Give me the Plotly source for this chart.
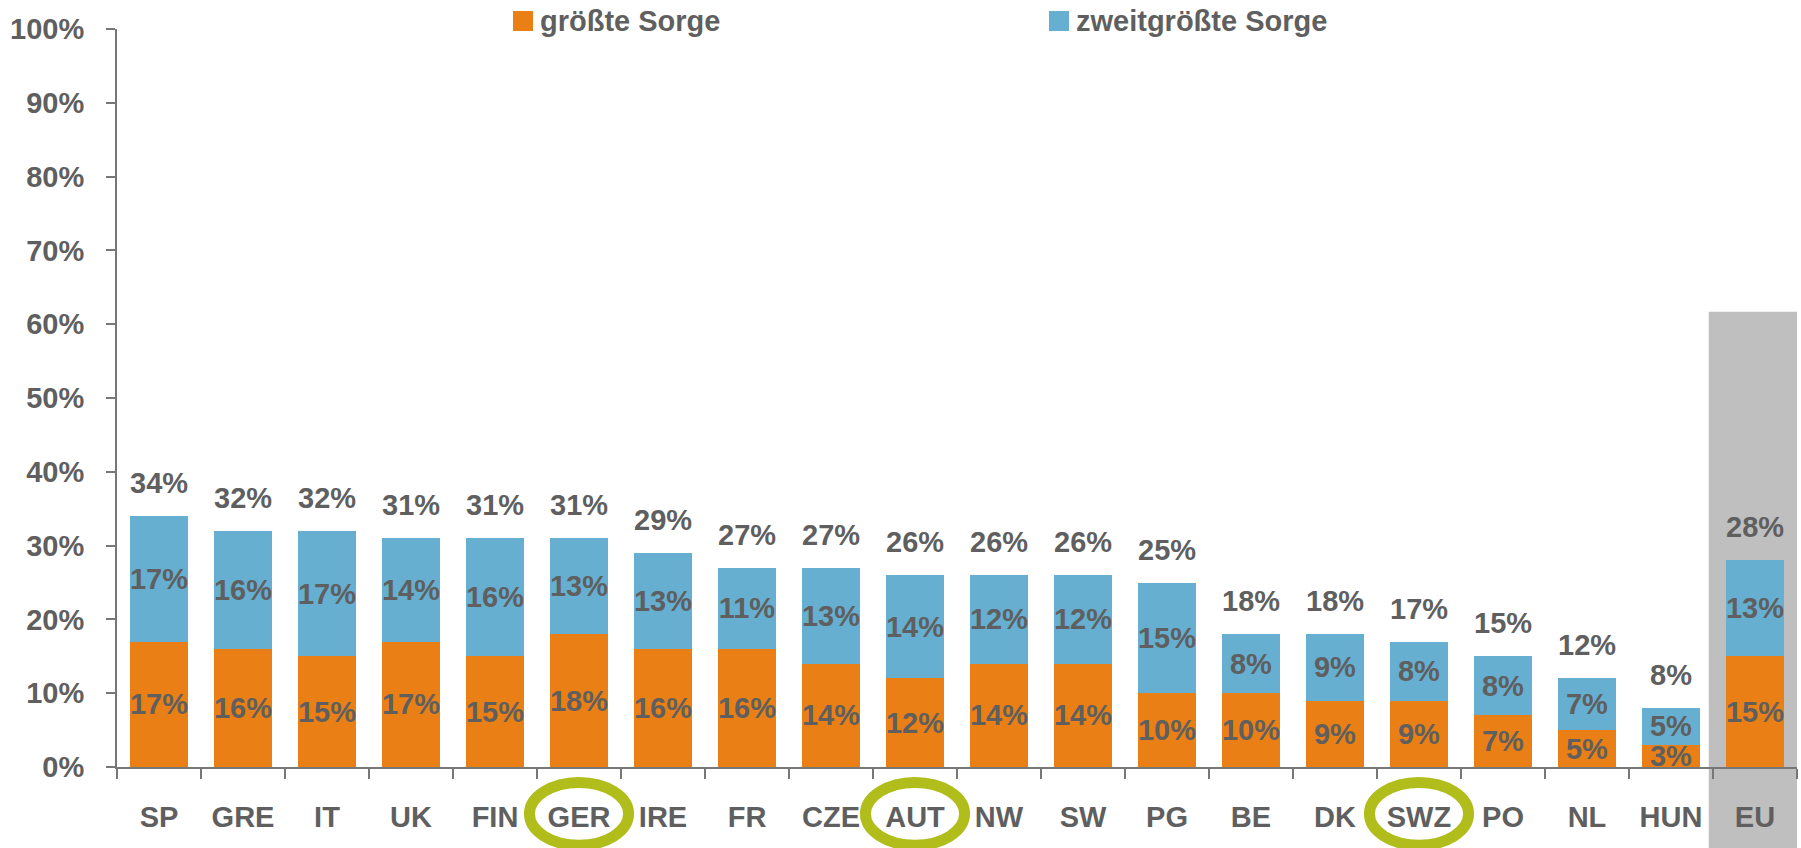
import plotly.graph_objects as go

categories = ["SP", "GRE", "IT", "UK", "FIN", "GER", "IRE", "FR", "CZE", "AUT",
              "NW", "SW", "PG", "BE", "DK", "SWZ", "PO", "NL", "HUN", "EU"]
biggest = [17, 16, 15, 17, 15, 18, 16, 16, 14, 12, 14, 14, 10, 10, 9, 9, 7, 5, 3, 15]
second = [17, 16, 17, 14, 16, 13, 13, 11, 13, 14, 12, 12, 15, 8, 9, 8, 8, 7, 5, 13]
totals = [34, 32, 32, 31, 31, 31, 29, 27, 27, 26, 26, 26, 25, 18, 18, 17, 15, 12, 8, 28]
highlighted = ["GER", "AUT", "SWZ"]
series_names = ["größte Sorge", "zweitgrößte Sorge"]
y_ticks = list(range(0, 101, 10))

ORANGE = "#EA7F16"
BLUE = "#66AFD0"
TEXT = "#5F5F5F"
AXIS = "#777777"
GREEN = "#B0BD1A"
FONT = "Arial, Liberation Sans, sans-serif"
FS = 29

W, H = 1801, 848
ML, MR, MT, MB = 117, 4, 29, 81
PW, PH = W - ML - MR, H - MT - MB


def px_x(p):
    return (p - ML) / PW


def px_y(p):
    return (H - MB - p) / PH


fig = go.Figure()
for name, vals, col in zip(series_names, [biggest, second], [ORANGE, BLUE]):
    fig.add_trace(go.Bar(
        x=categories, y=vals, name=name,
        marker=dict(color=col, line=dict(width=0)),
        text=[f"{v}%" for v in vals], textposition="inside",
        insidetextanchor="middle", textangle=0, constraintext="none",
        textfont=dict(family=FONT, size=FS, color=TEXT, weight="bold"),
        showlegend=False, hoverinfo="skip"))

for c, t in zip(categories, totals):
    fig.add_annotation(x=c, y=t, text=f"{t}%", showarrow=False,
                       yanchor="middle", yshift=33,
                       font=dict(family=FONT, size=FS, color=TEXT, weight="bold"))

# legend drawn by hand (square + label)
legend_square_left = [513, 1049]
for name, col, sx in zip(series_names, [ORANGE, BLUE], legend_square_left):
    fig.add_shape(type="rect", xref="paper", yref="paper",
                  x0=px_x(sx), x1=px_x(sx + 20), y0=px_y(31), y1=px_y(11),
                  fillcolor=col, line=dict(width=0))
    fig.add_annotation(xref="paper", yref="paper", x=px_x(sx + 26), y=px_y(21),
                       xanchor="left", yanchor="middle", text=name,
                       showarrow=False, borderpad=0,
                       font=dict(family=FONT, size=FS, color=TEXT, weight="bold"))

# grey highlight behind EU
eu_idx = categories.index("EU")
fig.add_shape(type="rect", xref="x", yref="y domain",
              x0=eu_idx - 0.55, x1=eu_idx + 0.5, y0=-0.2, y1=0.617,
              fillcolor="#BFBFBF", line=dict(width=0), layer="below")

# green ellipses around highlighted labels
for h in highlighted:
    i = categories.index(h)
    fig.add_shape(type="circle", xref="x", yref="y domain",
                  x0=i - 0.59, x1=i + 0.59, y0=-0.106, y1=-0.021,
                  line=dict(color=GREEN, width=11), layer="above")

fig.update_layout(
    width=W, height=H,
    margin=dict(l=ML, r=MR, t=MT, b=MB, autoexpand=False),
    paper_bgcolor="white", plot_bgcolor="rgba(0,0,0,0)",
    barmode="stack", bargap=0.32, showlegend=False,
    font=dict(family=FONT, size=FS, color=TEXT),
    xaxis=dict(type="category", tickson="boundaries", ticks="outside",
               ticklen=10, tickwidth=2, tickcolor=AXIS, showline=True,
               linecolor=AXIS, linewidth=2, showgrid=False, zeroline=False,
               ticklabelstandoff=23, range=[-0.5, len(categories) - 0.5],
               tickfont=dict(family=FONT, size=FS, color=TEXT, weight="bold")),
    yaxis=dict(range=[0, 100], tickvals=y_ticks,
               ticktext=[f"{v}%" for v in y_ticks], ticks="outside",
               ticklen=9, tickwidth=2, tickcolor=AXIS, showline=True,
               linecolor=AXIS, linewidth=2, showgrid=False, zeroline=False,
               ticklabelstandoff=16,
               tickfont=dict(family=FONT, size=FS, color=TEXT, weight="bold")),
)

fig.write_html("out.html", config={"displayModeBar": False},
               post_script="document.body.style.margin='0';")
